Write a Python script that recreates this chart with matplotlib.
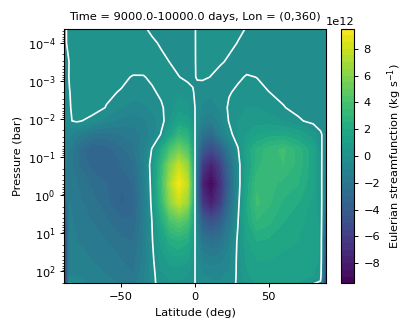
import numpy as np
import matplotlib
matplotlib.use("Agg")
from matplotlib import pyplot as plt
from matplotlib.ticker import FixedLocator, FuncFormatter, NullLocator

# grid
latitude = [-88.5, -85, -80, -70, -60, -50, -42, -35, -29, -23, -17, -11, -5, -1.5,
            1.5, 5, 11, 17, 23, 29, 35, 42, 50, 60, 70, 80, 85, 88.5]
log10_pressure = [-4.4, -4.0, -3.5, -3.1, -2.7, -2.3, -1.95, -1.6, -1.2, -0.8, -0.3,
                  0.2, 0.7, 1.2, 1.7, 2.1, 2.35]

# streamfunction, units of 1e12 kg/s, one row per pressure level
psi_1e12 = [
    [-0.2, 0.3, 0.3, 0.3, 0.3, 0.3, 0.25, 0.05, -0.12, -0.2, -0.2, -0.2, -0.15, -0.06,
     0.04, 0.12, 0.15, 0.15, 0.12, 0.08, -0.01, -0.15, -0.25, -0.3, -0.3, -0.3, -0.3, -0.35],
    [-0.25, 0.35, 0.35, 0.35, 0.35, 0.35, 0.3, 0.2, 0.08, -0.06, -0.2, -0.25, -0.2, -0.06,
     0.04, 0.15, 0.2, 0.18, 0.1, -0.01, -0.15, -0.25, -0.3, -0.3, -0.3, -0.3, -0.3, -0.35],
    [-0.3, 0.03, 0.3, 0.4, 0.4, 0.4, 0.35, 0.3, 0.25, 0.12, -0.01, -0.2, -0.25, -0.08,
     0.05, 0.15, 0.15, 0.05, -0.06, -0.2, -0.25, -0.3, -0.3, -0.3, -0.3, -0.3, -0.3, -0.35],
    [-0.35, 0.05, 0.3, 0.35, 0.3, 0.15, -0.05, -0.04, 0.12, 0.2, 0.15, 0.02, -0.15, -0.1,
     0.05, 0.1, -0.02, -0.15, -0.2, -0.1, 0.05, -0.01, -0.2, -0.3, -0.3, -0.3, -0.3, -0.35],
    [-0.35, -0.02, 0.3, 0.25, 0.12, -0.05, -0.3, -0.3, -0.1, 0.12, 0.4, 0.45, 0.3, 0.05,
     -0.2, -0.35, -0.35, -0.25, -0.05, 0.12, 0.2, 0.15, 0.01, -0.15, -0.3, -0.3, -0.3, -0.4],
    [-0.4, -0.05, 0.25, 0.3, -0.03, -0.5, -0.7, -0.6, -0.4, -0.1, 0.3, 0.8, 0.6, 0.2,
     -0.2, -0.6, -0.8, -0.4, 0.1, 0.4, 0.5, 0.5, 0.35, 0.03, -0.2, -0.3, -0.35, -0.45],
    [-0.45, -0.05, 0.1, -0.2, -0.8, -1.2, -1.3, -1.1, -0.8, -0.25, 0.5, 1.5, 1.2, 0.4,
     -0.4, -1.2, -1.5, -0.8, 0.05, 0.5, 0.7, 0.8, 0.7, 0.45, 0.1, -0.2, -0.3, -0.5],
    [-0.8, -0.9, -1.3, -2.1, -2.2, -2.0, -1.8, -1.4, -0.8, 0.05, 1.5, 3.0, 2.4, 1.0,
     -1.0, -2.4, -3.0, -1.5, -0.3, 0.5, 1.0, 1.4, 1.7, 1.8, 1.4, 0.7, 0.1, -0.3],
    [-1.2, -1.6, -2.4, -3.6, -3.3, -2.7, -2.1, -1.2, 0.1, 2.0, 4.0, 5.3, 4.3, 1.8,
     -1.8, -4.3, -5.3, -4.0, -1.8, -0.1, 1.6, 2.6, 3.3, 3.6, 2.8, 1.6, 0.2, -0.6],
    [-1.3, -1.8, -2.4, -3.2, -3.1, -3.0, -2.6, -1.2, 0.5, 3.0, 6.0, 7.8, 6.3, 2.6,
     -2.6, -6.3, -7.8, -6.0, -3.0, -0.4, 1.3, 2.8, 3.4, 3.5, 2.8, 1.6, 0.25, -0.8],
    [-1.8, -1.6, -2.0, -2.6, -3.0, -3.5, -3.0, -1.4, 0.4, 3.5, 7.0, 9.2, 7.6, 3.2,
     -3.3, -7.7, -9.3, -7.0, -3.5, -0.5, 1.6, 3.4, 3.2, 2.8, 2.5, 1.6, 0.3, -1.0],
    [-3.5, -1.5, -1.8, -2.3, -2.8, -3.6, -3.3, -1.6, 0.3, 3.0, 6.2, 7.8, 6.5, 2.8,
     -2.8, -6.5, -7.9, -6.2, -3.0, -0.3, 1.9, 3.6, 3.1, 2.4, 2.0, 1.3, 0.6, -2.0],
    [-5.0, -1.4, -1.6, -2.0, -2.4, -2.9, -2.9, -1.6, 0.05, 2.0, 3.9, 4.6, 3.9, 1.8,
     -1.8, -3.9, -4.7, -3.9, -2.0, -0.05, 1.8, 2.9, 2.6, 2.0, 1.7, 1.2, 0.9, -3.5],
    [-6.0, -1.3, -1.5, -1.8, -2.0, -2.4, -2.5, -1.5, -0.05, 1.2, 2.2, 2.5, 2.1, 0.9,
     -0.9, -2.1, -2.5, -2.2, -1.2, 0.15, 1.4, 2.0, 1.9, 1.6, 1.5, 1.2, 0.9, -4.5],
    [-6.5, -1.1, -1.3, -1.5, -1.7, -2.0, -2.2, -1.4, -0.15, 0.7, 1.2, 1.3, 1.1, 0.5,
     -0.5, -1.1, -1.3, -1.2, -0.7, 0.15, 1.1, 1.5, 1.5, 1.4, 1.3, 1.2, 0.9, -5.0],
    [-7.0, -1.0, -1.1, -1.3, -1.5, -1.8, -2.0, -1.2, -0.2, 0.4, 0.6, 0.6, 0.5, 0.2,
     -0.2, -0.5, -0.6, -0.6, -0.4, 0.1, 0.9, 1.2, 1.3, 1.3, 1.2, 1.0, 0.6, -5.5],
    [-7.0, 0.15, -0.1, -1.0, -1.2, -1.5, -1.6, -1.0, -0.2, 0.3, 0.4, 0.4, 0.3, 0.1,
     -0.1, -0.3, -0.4, -0.4, -0.3, 0.1, 0.7, 1.0, 1.1, 1.1, 0.9, -0.1, -0.4, -5.5],
]

plt.rcParams["font.size"] = 8.2

lat = np.array(latitude)
lp = np.array(log10_pressure)
psi = np.array(psi_1e12) * 1e12

fig = plt.figure(figsize=(4.15, 3.32), dpi=100)
ax = fig.add_axes([0.1554, 0.1467, 0.6294, 0.7669])
cax = fig.add_axes([0.8217, 0.1467, 0.032, 0.7669])

levels = np.arange(-9.5, 9.51, 0.5) * 1e12
cf = ax.contourf(lat, lp, psi, levels=levels, cmap="viridis")
ax.contour(lat, lp, psi, levels=[0], colors="white", linewidths=1.2)

ax.set_xlim(-88.4, 88.5)
ax.set_ylim(2.31, -4.37)
ax.set_xticks([-50, 0, 50])
ax.yaxis.set_major_locator(FixedLocator(range(-4, 3)))
ax.yaxis.set_major_formatter(FuncFormatter(lambda v, p: "$10^{%d}$" % round(v)))
minors = [n + np.log10(k) for n in range(-5, 3) for k in range(2, 10)]
ax.yaxis.set_minor_locator(FixedLocator(minors))
ax.xaxis.set_minor_locator(NullLocator())
ax.tick_params(which="major", length=3, width=0.7)
ax.tick_params(which="minor", length=1.7, width=0.5)

ax.set_xlabel("Latitude (deg)")
ax.set_ylabel("Pressure (bar)")
ax.set_title("Time = 9000.0-10000.0 days, Lon = (0,360)", fontsize=8.2)

cb = fig.colorbar(cf, cax=cax)
cb.set_ticks(np.arange(-8, 9, 2) * 1e12)
cb.ax.tick_params(length=3, width=0.7)
cb.set_label("Eulerian streamfunction (kg s$^{-1}$)")

fig.savefig("out.png", dpi=100)
